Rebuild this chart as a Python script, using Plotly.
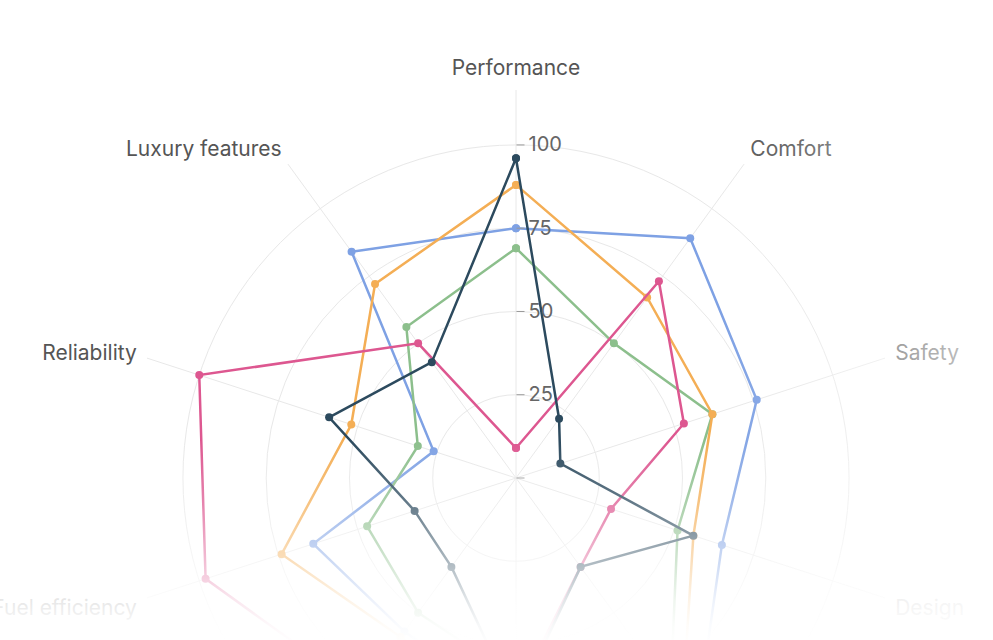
import base64
import plotly.graph_objects as go

# axes of the radar, clockwise from the top
categories = ["Performance", "Comfort", "Safety", "Design", "Technology",
              "Value", "Handling", "Fuel efficiency", "Reliability", "Luxury features"]

navy_vals = [96, 22, 14, 56, 33, 68, 33, 32, 59, 43]
orange_vals = [88, 67, 62, 56, 85, 72, 59, 74, 52, 72]
blue_vals = [75, 89, 76, 65, 92, 70, 57, 64, 26, 84]
green_vals = [69, 50, 62, 51, 79, 60, 50, 47, 31, 56]
pink_vals = [9, 73, 53, 30, 33, 65, 79, 98, 100, 50]

radial_ticks = [0, 25, 50, 75, 100]
radial_labels = ["", "25", "50", "75", "100"]

series = [
    ("Model B", blue_vals, "#7ea1e4"),
    ("Model D", green_vals, "#8cbf8c"),
    ("Model C", orange_vals, "#f4ae55"),
    ("Model E", pink_vals, "#dd5790"),
    ("Model A", navy_vals, "#2c4a5e"),
]

W, H = 993, 1000
R_MAX = 116.5
# plot area in pixels
left, top, size = 128, 90, 776

fig = go.Figure()
for name, vals, color in series:
    fig.add_trace(go.Scatterpolar(
        r=vals + vals[:1],
        theta=categories + categories[:1],
        mode="lines+markers",
        name=name,
        line=dict(color=color, width=2.5),
        marker=dict(color=color, size=8),
        showlegend=False,
    ))


def fade(vertical, stops):
    x2, y2 = ("0", "1") if vertical else ("1", "0")
    tags = "".join('<stop offset="%s" stop-color="white" stop-opacity="%s"/>' % (o, a) for o, a in stops)
    svg = ('<svg xmlns="http://www.w3.org/2000/svg" width="100" height="100" viewBox="0 0 100 100" '
           'preserveAspectRatio="none"><defs><linearGradient id="g" x1="0" y1="0" x2="%s" y2="%s">%s'
           '</linearGradient></defs><rect width="100" height="100" fill="url(#g)"/></svg>') % (x2, y2, tags)
    return "data:image/svg+xml;base64," + base64.b64encode(svg.encode()).decode()


def px_x(p):
    return (p - left) / size


def px_y(p):
    return (top + size - p) / size


# soft fade at the bottom and right edge
v_top, v_bot = 420, 1020
v_stops = [(440, 0), (500, 0.25), (560, 0.6), (600, 0.86), (625, 0.96), (645, 1), (1020, 1)]
h_left, h_right = 700, 1000
h_stops = [(720, 0), (800, 0.15), (880, 0.4), (960, 0.6), (1000, 0.65)]

fig.update_layout(
    images=[
        dict(source=fade(True, [((y - v_top) / (v_bot - v_top), a) for y, a in v_stops]),
             xref="paper", yref="paper", x=px_x(-10), y=px_y(v_top),
             sizex=(W + 20) / size, sizey=(v_bot - v_top) / size,
             sizing="stretch", layer="above", xanchor="left", yanchor="top"),
        dict(source=fade(False, [((x - h_left) / (h_right - h_left), a) for x, a in h_stops]),
             xref="paper", yref="paper", x=px_x(h_left), y=px_y(0),
             sizex=(h_right - h_left) / size, sizey=H / size,
             sizing="stretch", layer="above", xanchor="left", yanchor="top"),
    ],
    width=W,
    height=H,
    margin=dict(l=left, r=W - left - size, t=top, b=H - top - size),
    paper_bgcolor="white",
    font=dict(family="Inter, sans-serif", size=21, color="#555555"),
    polar=dict(
        bgcolor="white",
        angularaxis=dict(
            rotation=90,
            direction="clockwise",
            showline=False,
            gridcolor="#e8e8e8",
            gridwidth=1,
            ticks="outside",
            ticklen=6,
            tickcolor="rgba(0,0,0,0)",
            tickfont=dict(size=21, color="#555555"),
        ),
        radialaxis=dict(
            range=[0, R_MAX],
            angle=90,
            tickangle=90,
            side="clockwise",
            tickvals=radial_ticks,
            ticktext=radial_labels,
            ticks="outside",
            ticklen=8,
            tickcolor="#999999",
            showline=False,
            gridcolor="#e8e8e8",
            gridwidth=1,
            tickfont=dict(size=20, color="#666666"),
        ),
    ),
)

fig.write_html("out.html", config={"displayModeBar": False},
               post_script="document.body.style.margin='0';document.body.style.overflow='hidden';")
